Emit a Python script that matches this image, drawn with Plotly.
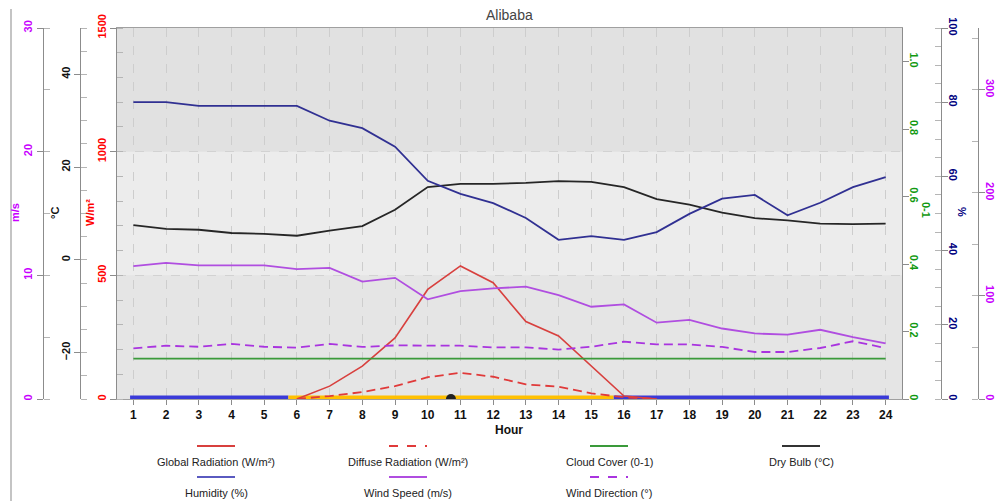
import plotly.graph_objects as go

# ---------------- data ----------------
hours = list(range(1, 25))
global_rad = [None, None, None, None, None, 0, 52, 133, 247, 443, 538, 470, 313, 255, 135, 12, 0,
              None, None, None, None, None, None, None]
diffuse_rad = [None, None, None, None, None, 0, 12, 28, 52, 88, 106, 90, 59, 50, 23, 7, 0,
               None, None, None, None, None, None, None]
cloud_cover = [0.12, 0.12, 0.12, 0.12, 0.12, 0.12, 0.12, 0.12, 0.12, 0.12, 0.12, 0.12,
               0.12, 0.12, 0.12, 0.12, 0.12, 0.12, 0.12, 0.12, 0.12, 0.12, 0.12, 0.12]
dry_bulb = [7.5, 6.7, 6.5, 5.8, 5.6, 5.2, 6.3, 7.3, 10.8, 15.7, 16.4, 16.4,
            16.6, 17.0, 16.8, 15.7, 13.1, 11.9, 10.2, 9.0, 8.5, 7.8, 7.7, 7.8]
humidity = [80, 80, 79, 79, 79, 79, 75, 73, 68, 58.8, 55.3, 52.8,
            48.8, 42.9, 43.9, 42.9, 45, 49.9, 54, 55, 49.5, 52.9, 57.1, 59.8]
wind_speed = [10.75, 11.0, 10.8, 10.8, 10.8, 10.5, 10.6, 9.5, 9.8, 8.06, 8.73, 8.95,
              9.08, 8.4, 7.46, 7.65, 6.17, 6.4, 5.7, 5.3, 5.2, 5.6, 5.0, 4.5]
wind_dir = [49.2, 51.7, 50.7, 53.4, 50.7, 49.8, 53.4, 50.5, 52, 51.7, 51.7, 50,
            50, 48, 50.7, 55.6, 53, 53, 50.5, 45.6, 45.6, 49.5, 56, 49.5]

# day / night indicator
day_start, sunrise, sunset, day_end = 0.9, 5.74, 15.68, 24.1
solar_noon = 10.71

cloud_tickvals = [0, 0.2, 0.4, 0.6, 0.8, 1.0]
cloud_ticktext = ["0", "0.2", "0.4", "0.6", "0.8", "1.0"]

legend_names = ["Global Radiation (W/m²)", "Diffuse Radiation (W/m²)", "Cloud Cover (0-1)",
                "Dry Bulb (°C)", "Humidity (%)", "Wind Speed (m/s)", "Wind Direction (°)"]

# ---------------- style ----------------
C_GLOBAL = "#d8403e"
C_DIFF = "#e03a3a"
C_CLOUD = "#3a9a3a"
C_DRY = "#262626"
C_HUM = "#303092"
C_WS = "#b04ee0"
C_WD = "#a934df"
C_NIGHT = "#3a3ad8"
C_DAY = "#ffc000"

W, H = 1000, 502
PX0, PX1 = 117, 902   # plot area x (page pixels)
PY0, PY1 = 28, 399    # plot area y (page pixels, top/bottom)


def px(x):
    return x / W


def py(y):
    return 1 - y / H


FONT = "Arial, Liberation Sans, sans-serif"

fig = go.Figure()

# day / night bar (on W/m² axis)
fig.add_trace(go.Scatter(x=[day_start, sunrise], y=[0, 0], mode="lines",
                         line=dict(color=C_NIGHT, width=7), yaxis="y", hoverinfo="skip"))
fig.add_trace(go.Scatter(x=[sunset, day_end], y=[0, 0], mode="lines",
                         line=dict(color=C_NIGHT, width=7), yaxis="y", hoverinfo="skip"))
fig.add_trace(go.Scatter(x=[sunrise, sunset], y=[0, 0], mode="lines",
                         line=dict(color=C_DAY, width=7), yaxis="y", hoverinfo="skip"))
fig.add_trace(go.Scatter(x=[solar_noon], y=[0], mode="markers", cliponaxis=True,
                         marker=dict(color="#222222", size=10), yaxis="y", hoverinfo="skip"))

fig.add_trace(go.Scatter(x=hours, y=global_rad, name=legend_names[0], mode="lines",
                         line=dict(color=C_GLOBAL, width=1.6), yaxis="y"))
fig.add_trace(go.Scatter(x=hours, y=diffuse_rad, name=legend_names[1], mode="lines",
                         line=dict(color=C_DIFF, width=1.8, dash="9px,5px"), yaxis="y"))
fig.add_trace(go.Scatter(x=hours, y=dry_bulb, name=legend_names[3], mode="lines",
                         line=dict(color=C_DRY, width=1.8), yaxis="y2"))
fig.add_trace(go.Scatter(x=hours, y=wind_speed, name=legend_names[5], mode="lines",
                         line=dict(color=C_WS, width=1.8), yaxis="y3"))
fig.add_trace(go.Scatter(x=hours, y=cloud_cover, name=legend_names[2], mode="lines",
                         line=dict(color=C_CLOUD, width=1.8), yaxis="y4"))
fig.add_trace(go.Scatter(x=hours, y=humidity, name=legend_names[4], mode="lines",
                         line=dict(color=C_HUM, width=1.8), yaxis="y5"))
fig.add_trace(go.Scatter(x=hours, y=wind_dir, name=legend_names[6], mode="lines",
                         line=dict(color=C_WD, width=1.8, dash="9px,5px"), yaxis="y6"))

AX_GRAY = "#8c8c8c"
dom_y = [py(PY1), py(PY0)]


def yax(color, rng, dtick, minor_dtick, side, position=None, anchor="x", overlay=True,
        tickangle=-90, tick0=0, standoff=0):
    d = dict(
        range=rng, dtick=dtick, tick0=tick0, domain=dom_y, side=side,
        showline=True, linecolor=AX_GRAY, linewidth=1,
        ticks="outside", ticklen=6, tickcolor=AX_GRAY, tickangle=tickangle,
        ticklabelstandoff=standoff,
        tickfont=dict(family=FONT, size=11, color=color, weight="bold"),
        showgrid=False, zeroline=False, fixedrange=True, automargin=False,
    )
    if minor_dtick:
        d["minor"] = dict(dtick=minor_dtick, ticks="inside", ticklen=6, tickcolor="#b5b5b5",
                          showgrid=False)
    if overlay:
        d["overlaying"] = "y"
    if position is not None:
        d["anchor"] = "free"
        d["position"] = position
        d["autoshift"] = False
    else:
        d["anchor"] = anchor
    return d


fig.update_layout(
    width=W, height=H, autosize=False,
    margin=dict(l=0, r=0, t=0, b=0, pad=0),
    paper_bgcolor="white", plot_bgcolor="#e5e5e5",
    showlegend=False,
    xaxis=dict(
        domain=[px(PX0), px(PX1)], range=[0.5, 24.5],
        tickvals=hours, ticktext=[str(h) for h in hours],
        ticks="outside", ticklen=5, tickcolor=AX_GRAY,
        tickfont=dict(family=FONT, size=12, color="#111", weight="bold"),
        showgrid=True, gridcolor="#cdcdcd", griddash="dash", gridwidth=1,
        showline=True, linecolor="#a0a0a0", mirror=True, zeroline=False, fixedrange=True,
        automargin=False,
    ),
    yaxis=dict(
        yax("#ff0000", [0, 1500], 500, 100, "left", overlay=False),
        showgrid=True, gridcolor="#d2d2d2", griddash="dash", mirror=True,
    ),
    yaxis2=yax("#111111", [-30, 50], 20, 5, "left", position=px(80)),
    yaxis3=yax("#c800ff", [0, 30], 10, 5, "left", position=px(42.5)),
    yaxis4=dict(yax("#119911", [0, 1.1], 0.2, None, "right", anchor="x", tickangle=90,
                    standoff=-3),
                tickmode="array", tickvals=cloud_tickvals, ticktext=cloud_ticktext),
    yaxis5=yax("#00007f", [0, 100], 20, 5, "right", position=px(941), tickangle=90, standoff=-3),
    yaxis6=yax("#c800ff", [0, 360], 100, 50, "right", position=px(978), tickangle=90, standoff=-3),
)

# background bands
fig.add_shape(type="rect", xref="x domain", yref="y", x0=0, x1=1, y0=1000, y1=1500,
              fillcolor="#e1e1e1", line=dict(width=0), layer="below")
fig.add_shape(type="rect", xref="x domain", yref="y", x0=0, x1=1, y0=500, y1=1000,
              fillcolor="#ececec", line=dict(width=0), layer="below")

# left frame line
fig.add_shape(type="line", xref="paper", yref="paper", x0=px(11), x1=px(11), y0=py(9), y1=py(501),
              line=dict(color="#c4c4c4", width=2))


def ann(text, x, y, size, color, bold=False, angle=0):
    fig.add_annotation(text=text, xref="paper", yref="paper", x=px(x), y=py(y),
                       xanchor="center", yanchor="middle", showarrow=False, textangle=angle,
                       font=dict(family=FONT, size=size, color=color,
                                 weight="bold" if bold else "normal"))


# title and axis titles
ann("Alibaba", 509, 15, 14, "#444")
ann("Hour", 509, 430, 12, "#111", bold=True)

axis_titles = [
    ("m/s", 15, 213, "#c800ff", -90),
    ("°C", 55, 213, "#111111", -90),
    ("W/m²", 90, 213, "#ff0000", -90),
    ("0-1", 926, 210, "#119911", 90),
    ("%", 962, 212, "#00007f", 90),
]
for txt, x, y, col, ang in axis_titles:
    ann(txt, x, y, 11, col, bold=True, angle=ang)

# custom legend (symbol above label)
legend_cols = [216, 408, 609, 801]
legend_rows = [(446, 462), (477, 493)]
legend_styles = [
    (C_GLOBAL, "solid"), (C_DIFF, "dash"), (C_CLOUD, "solid"), ("#333333", "solid"),
    ("#5a5ac0", "solid"), (C_WS, "solid"), (C_WD, "dash"),
]
for i, name in enumerate(legend_names):
    r, c = divmod(i, 4)
    cx = legend_cols[c]
    ly, ty = legend_rows[r]
    col, dash = legend_styles[i]
    fig.add_shape(type="line", xref="paper", yref="paper", x0=px(cx - 19), x1=px(cx + 19),
                  y0=py(ly), y1=py(ly), line=dict(color=col, width=2, dash=dash))
    ann(name, cx, ty, 11, "#222")

# remove the default page margin so the 1000x502 figure fills the window exactly
fig.write_html("out.html", config={"displayModeBar": False},
               post_script="document.body.style.margin='0';")
